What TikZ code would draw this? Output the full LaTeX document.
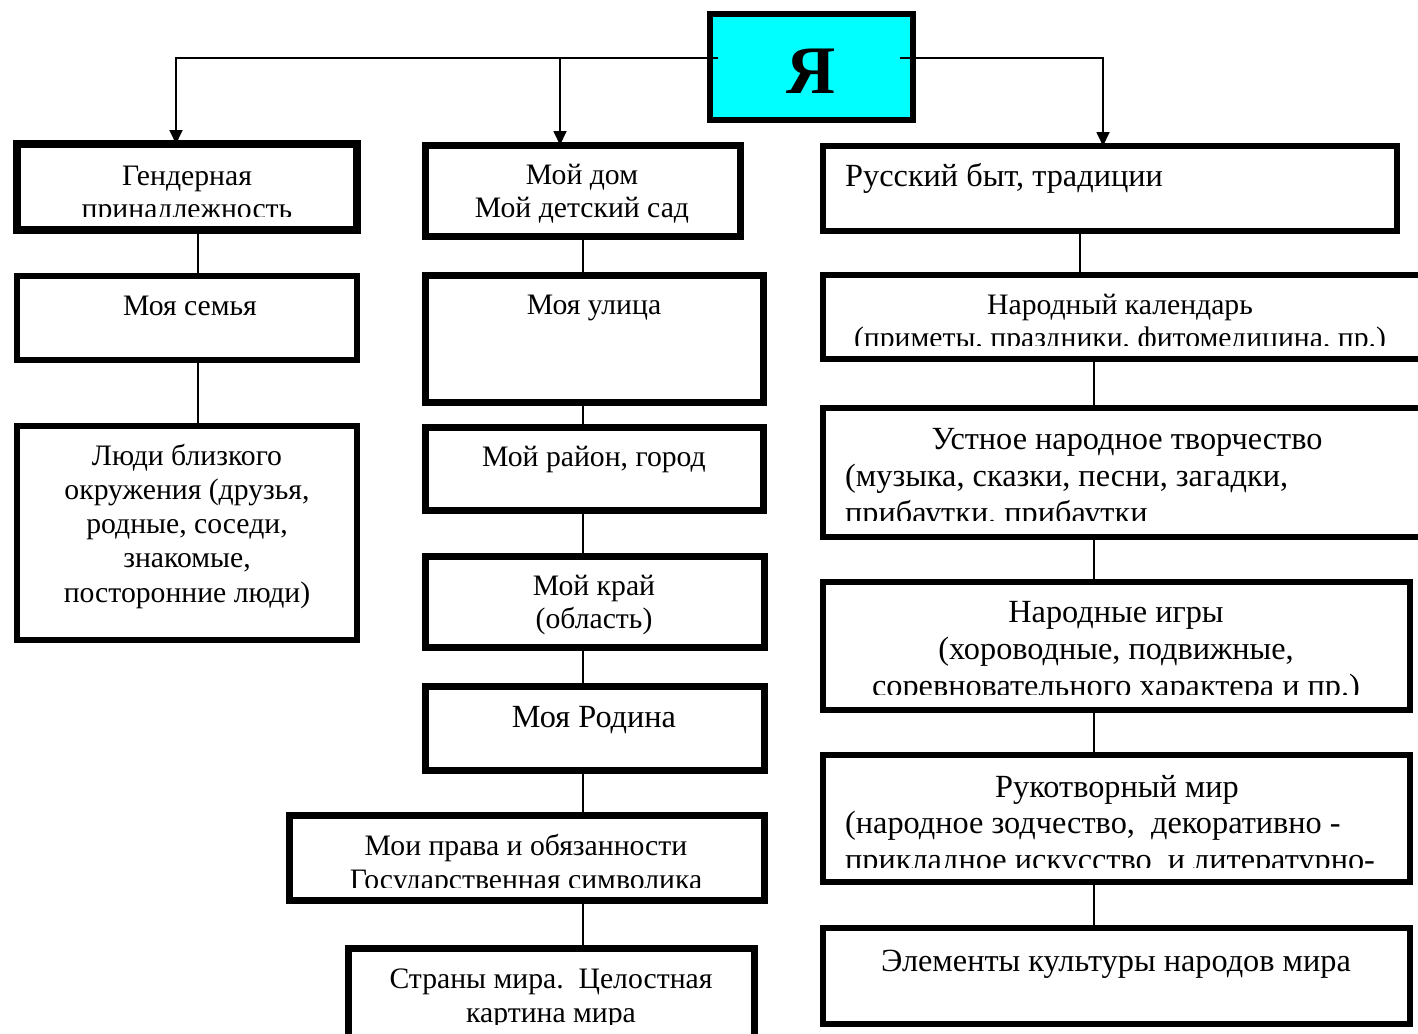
\documentclass[tikz,border=0pt]{standalone}
\usepackage{fontspec}
\setmainfont{Liberation Serif}
\usetikzlibrary{arrows.meta}
\definecolor{aqua}{RGB}{0,255,255}
\tikzset{
  bx/.style={draw, line width=#1, inner sep=0pt, outer sep=0pt, rectangle},
  txt/.style={anchor=base, inner sep=0pt, font=\fontsize{29.7}{34}\selectfont},
  txtl/.style={anchor=base west, inner sep=0pt, font=\fontsize{29.7}{34}\selectfont},
  big/.style={font=\fontsize{32.3}{38}\selectfont},
  ln/.style={line width=1.8pt},
  arr/.style={line width=1.8pt, -{Triangle[length=14pt,width=13pt]}},
}
\newcommand\mkbox[6]{\node[bx=#6, minimum width={(#4-#2)*1pt}, minimum height={(#5-#3)*1pt}] (#1) at ({(#2+#4)/2},{(#3+#5)/2}) {};}
\begin{document}
\begin{tikzpicture}[x=1pt,y=-1pt]
\useasboundingbox (0,0) rectangle (1418,1033);
\fill[white] (0,0) rectangle (1418,1033);
\clip (0,0) rectangle (1418,1033);

% column coordinates
\coordinate (cL) at (198,0);
\coordinate (cM) at (583,0);
\coordinate (cR1) at (1080,0);
\coordinate (cR2) at (1094,0);
\coordinate (aL) at (176,0);
\coordinate (aM) at (560,0);
\coordinate (aR) at (1103,0);

% top box
\node[bx=6pt, fill=aqua, minimum width=203pt, minimum height=106pt] (ya) at (811.5,67) {};
\node[anchor=base, inner sep=0pt, font=\fontsize{68}{68}\selectfont\bfseries] (yat) at (811,93) {Я};
\coordinate (hl) at (718,58);
\coordinate (hr) at (900,58);

% left column
\mkbox{g}{17}{144}{357}{230}{8pt}
\begin{scope}
\clip (17,144) rectangle (357,216);
\node[txt] (g1) at (187,185) {Гендерная};
\node[txt] (g2) at (187,218) {принадлежность};
\end{scope}
\mkbox{s}{17}{276}{357}{360}{6pt}
\node[txt] (s1) at (190,315) {Моя семья};
\mkbox{l}{17}{426}{357}{640}{6pt}
\node[txt] (l1) at (187,465) {Люди близкого};
\node[txt] (l2) at (187,499) {окружения (друзья,};
\node[txt] (l3) at (187,533) {родные, соседи,};
\node[txt] (l4) at (187,567) {знакомые,};
\node[txt] (l5) at (187,602) {посторонние люди)};

% middle column
\mkbox{d}{425}{145}{740}{236}{7pt}
\node[txt] (d1) at (582,184) {Мой дом};
\node[txt] (d2) at (582,217) {Мой детский сад};
\mkbox{ul}{425}{275}{763}{402}{7pt}
\node[txt] (ul1) at (594,314) {Моя улица};
\mkbox{ra}{425}{427}{763}{510}{7pt}
\node[txt] (ra1) at (594,466) {Мой район, город};
\mkbox{kr}{425}{556}{764}{647}{7pt}
\node[txt] (kr1) at (594,595) {Мой край};
\node[txt] (kr2) at (594,628) {(область)};
\mkbox{ro}{425}{686}{764}{770}{7pt}
\node[txt, big] (ro1) at (594,727) {Моя Родина};
\mkbox{p}{289}{815}{764}{900}{7pt}
\begin{scope}
\clip (289,815) rectangle (764,887);
\node[txt] (p1) at (526,855) {Мои права и обязанности};
\node[txt] (p2) at (526,889) {Государственная символика};
\end{scope}
\mkbox{st}{348}{948}{754}{1045}{7pt}
\begin{scope}
\clip (348,948) rectangle (754,1024);
\node[txt] (st1) at (551,988) {Страны мира.\ \ Целостная};
\node[txt] (st2) at (551,1022) {картина мира};
\end{scope}

% right column
\mkbox{b}{823}{146}{1397}{231}{6pt}
\node[txtl, big] (b1) at (845,186) {Русский быт, традиции};
\mkbox{k}{823}{275}{1422}{359}{6pt}
\begin{scope}
\clip (823,275) rectangle (1422,345);
\node[txt] (k1) at (1120,314) {Народный календарь};
\node[txt] (k2) at (1120,347) {(приметы, праздники, фитомедицина, пр.)};
\end{scope}
\mkbox{u}{823}{408}{1430}{537}{6pt}
\begin{scope}
\clip (823,408) rectangle (1430,520);
\node[txt, big] (u1) at (1127,449) {Устное народное творчество};
\node[txtl, big] (u2) at (845,486) {(музыка, сказки, песни, загадки,};
\node[txtl, big] (u3) at (845,523) {прибаутки, прибаутки};
\end{scope}
\mkbox{i}{823}{582}{1410}{710}{6pt}
\begin{scope}
\clip (823,582) rectangle (1410,694);
\node[txt, big] (i1) at (1116,622) {Народные игры};
\node[txt, big] (i2) at (1116,659) {(хороводные, подвижные,};
\node[txt, big] (i3) at (1116,696) {соревновательного характера и пр.)};
\end{scope}
\mkbox{r}{823}{755}{1410}{882}{6pt}
\begin{scope}
\clip (823,755) rectangle (1410,867);
\node[txt, big] (r1) at (1117,797) {Рукотворный мир};
\node[txtl, big] (r2) at (845,833) {(народное зодчество,\ \ декоративно -};
\node[txtl, big] (r3) at (845,870) {прикладное искусство\ \ и литературно-};
\end{scope}
\mkbox{e}{823}{928}{1410}{1024}{6pt}
\node[txt, big] (e1) at (1116,971) {Элементы культуры народов мира};

% connectors
\draw[arr] (hl) -| (g.north -| aL);
\draw[arr] (hl -| aM) -- (d.north -| aM);
\draw[arr] (hr) -| (b.north -| aR);

\draw[ln] (g.south -| cL) -- (s.north -| cL);
\draw[ln] (s.south -| cL) -- (l.north -| cL);

\draw[ln] (d.south -| cM) -- (ul.north -| cM);
\draw[ln] (ul.south -| cM) -- (ra.north -| cM);
\draw[ln] (ra.south -| cM) -- (kr.north -| cM);
\draw[ln] (kr.south -| cM) -- (ro.north -| cM);
\draw[ln] (ro.south -| cM) -- (p.north -| cM);
\draw[ln] (p.south -| cM) -- (st.north -| cM);

\draw[ln] (b.south -| cR1) -- (k.north -| cR1);
\draw[ln] (k.south -| cR2) -- (u.north -| cR2);
\draw[ln] (u.south -| cR2) -- (i.north -| cR2);
\draw[ln] (i.south -| cR2) -- (r.north -| cR2);
\draw[ln] (r.south -| cR2) -- (e.north -| cR2);
\end{tikzpicture}
\end{document}
